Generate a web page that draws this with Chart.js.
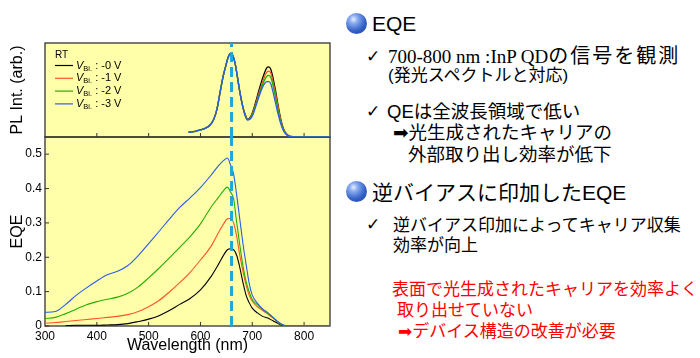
<!DOCTYPE html>
<html><head><meta charset="utf-8">
<script src="https://cdn.jsdelivr.net/npm/chart.js@4"></script>
<style>
html,body{margin:0;padding:0;background:#fff;width:700px;height:358px;overflow:hidden;}
#wrap{position:relative;width:700px;height:358px;}
#c{position:absolute;left:0;top:0;}
.t{position:absolute;white-space:nowrap;line-height:1;font-family:"Liberation Sans","Noto Sans CJK JP",sans-serif;color:#000;}
.b{font-size:17px;}
.b2{font-size:18.5px;}
.h{font-size:21px;}
.ball{position:absolute;width:21px;height:21px;border-radius:50%;background:radial-gradient(circle at 36% 30%, #e6eeff 0%, #86a8ee 22%, #3563c8 58%, #1c3f96 100%);}
.ck{position:absolute;font-family:"DejaVu Sans";font-weight:bold;font-size:17px;line-height:1;}
.ar{font-family:"DejaVu Sans";}
.serif{font-family:"Liberation Serif";font-size:19px;letter-spacing:0;}
.red{color:#ff0000;}
</style></head>
<body><div id="wrap">
<canvas id="c" width="340" height="358"></canvas>

<div class="ball" style="left:346px;top:13px;"></div>
<div class="t h" style="left:372px;top:13px;">EQE</div>
<div class="ck" style="left:366px;top:47.5px;">✓</div>
<div class="t" style="left:388px;top:45.5px;font-size:20px;letter-spacing:2px;"><span class="serif">700-800 nm :InP QD</span>の信号を観測</div>
<div class="t b" style="left:388px;top:67px;">(発光スペクトルと対応)</div>
<div class="ck" style="left:366px;top:102.5px;">✓</div>
<div class="t b2" style="left:387px;top:103px;">QEは全波長領域で低い</div>
<div class="t b2" style="left:393px;top:124px;"><span class="ar">➡</span>光生成されたキャリアの</div>
<div class="t b2" style="left:408px;top:146px;">外部取り出し効率が低下</div>

<div class="ball" style="left:346px;top:181px;"></div>
<div class="t h" style="left:372px;top:182px;">逆バイアスに印加したEQE</div>
<div class="ck" style="left:366px;top:215.5px;">✓</div>
<div class="t b" style="left:393px;top:217px;">逆バイアス印加によってキャリア収集</div>
<div class="t b" style="left:393px;top:237px;">効率が向上</div>
<div class="t b red" style="left:392px;top:281px;">表面で光生成されたキャリアを効率よく</div>
<div class="t b red" style="left:397px;top:302px;">取り出せていない</div>
<div class="t b red" style="left:398px;top:323px;"><span class="ar">➡</span>デバイス構造の改善が必要</div>
</div>
<script>
// ---------- data ----------
const wlPL = [577,590,600,610,618,625,632,638,644,649,653,657,660,663,667,671,676,681,686,691,696,701,707,713,719,724,728,732,736,740,745,750,755,760,765,770,780,800,820,850];
const plV0 = [0.05,0.06,0.075,0.095,0.125,0.18,0.30,0.48,0.65,0.76,0.84,0.885,0.89,0.86,0.78,0.65,0.48,0.34,0.245,0.19,0.21,0.27,0.38,0.50,0.61,0.69,0.735,0.745,0.715,0.63,0.49,0.33,0.19,0.09,0.04,0.015,0.003,0,0,0];
const plV1 = [0.05,0.06,0.075,0.095,0.125,0.18,0.30,0.48,0.65,0.76,0.84,0.885,0.89,0.86,0.78,0.65,0.48,0.34,0.24,0.187,0.20,0.26,0.36,0.47,0.57,0.65,0.69,0.70,0.675,0.59,0.46,0.31,0.18,0.085,0.037,0.013,0.003,0,0,0];
const plV2 = [0.05,0.06,0.075,0.095,0.125,0.18,0.30,0.48,0.65,0.76,0.84,0.885,0.89,0.86,0.78,0.65,0.48,0.34,0.235,0.183,0.195,0.25,0.345,0.45,0.545,0.61,0.645,0.655,0.63,0.55,0.42,0.28,0.16,0.078,0.033,0.011,0.002,0,0,0];
const plV3 = [0.05,0.06,0.075,0.095,0.125,0.18,0.30,0.48,0.65,0.76,0.84,0.885,0.89,0.86,0.78,0.65,0.48,0.34,0.23,0.18,0.19,0.235,0.33,0.43,0.52,0.57,0.59,0.59,0.56,0.48,0.36,0.24,0.14,0.07,0.03,0.01,0.002,0,0,0];

const wlEQE = [300,320,340,360,380,400,420,440,460,480,500,520,540,560,580,600,620,635,645,652,658,664,670,676,682,688,694,700,710,720,730,740,750,760,770,800,850];
const eqeV0 = [null,null,0.001,0.002,0.002,0.002,0.003,0.004,0.007,0.013,0.020,0.030,0.045,0.063,0.080,0.105,0.143,0.180,0.207,0.222,0.225,0.222,0.205,0.17,0.127,0.09,0.068,0.052,0.038,0.028,0.023,0.015,0.007,0.001,0,0,0];
const eqeV1 = [0.008,0.010,0.013,0.016,0.019,0.022,0.025,0.028,0.033,0.042,0.056,0.074,0.099,0.126,0.156,0.192,0.231,0.272,0.298,0.312,0.313,0.30,0.26,0.205,0.16,0.12,0.09,0.072,0.056,0.045,0.035,0.023,0.010,0.002,0,0,0];
const eqeV2 = [0.022,0.025,0.036,0.049,0.062,0.071,0.078,0.084,0.095,0.114,0.140,0.168,0.198,0.229,0.260,0.297,0.345,0.375,0.395,0.404,0.39,0.37,0.30,0.235,0.175,0.13,0.10,0.077,0.062,0.048,0.037,0.025,0.011,0.002,0,0,0];
const eqeV3 = [0.040,0.042,0.063,0.089,0.111,0.131,0.149,0.159,0.176,0.205,0.240,0.275,0.311,0.345,0.373,0.403,0.438,0.467,0.482,0.489,0.469,0.442,0.38,0.31,0.24,0.18,0.125,0.09,0.066,0.05,0.039,0.025,0.012,0.003,0,0,0];

const markerWL = 660;
const legendLabels = ['-0 V','-1 V','-2 V','-3 V'];
const seriesColors = ['#000000','#ff5526','#22b000','#2a5ce8'];
const xTicks = [300,400,500,600,700,800];

// ---------- helpers ----------
const pts = (xs, ys) => xs.map((x,i)=>({x, y: ys[i]})).filter(p=>p.y!==null);
const plSeries = [plV0, plV1, plV2, plV3];
const eqeSeries = [eqeV0, eqeV1, eqeV2, eqeV3];

const datasets = [];
datasets.push({data:[{x:markerWL,y:0},{x:markerWL,y:1}], yAxisID:'yPL', borderColor:'#1ea7da', borderWidth:3, borderDash:[10,5], pointRadius:0, order:0});
datasets.push({data:[{x:markerWL,y:0},{x:markerWL,y:0.55}], yAxisID:'y', borderColor:'#1ea7da', borderWidth:3, borderDash:[10,5], pointRadius:0, order:0});
for (let i=3;i>=0;i--){
  datasets.push({data:pts(wlPL, plSeries[i]), yAxisID:'yPL', borderColor:seriesColors[i], borderWidth:1.3, pointRadius:0, cubicInterpolationMode:'monotone', order:4-i});
  datasets.push({data:pts(wlEQE, eqeSeries[i]), yAxisID:'y', borderColor:seriesColors[i], borderWidth:1.1, pointRadius:0, cubicInterpolationMode:'monotone', order:4-i});
}

const framePlugin = {
  id:'frames',
  beforeDraw(chart){
    const {ctx, chartArea:ca} = chart;
    ctx.save(); ctx.fillStyle='#ffffaa';
    ctx.fillRect(ca.left, ca.top, ca.right-ca.left, ca.bottom-ca.top);
    ctx.restore();
  },
  beforeDatasetsDraw(chart){
    const {ctx, chartArea:ca, scales} = chart;
    const x = scales.x, y = scales.y, yPL = scales.yPL;
    ctx.save(); ctx.strokeStyle='#333'; ctx.lineWidth=1.3;
    [yPL, y].forEach(s=>ctx.strokeRect(ca.left, s.top, ca.right-ca.left, s.bottom-s.top));
    ctx.beginPath();
    x.ticks.forEach(t=>{
      const px = x.getPixelForValue(t.value);
      if (px <= ca.left+1 || px >= ca.right-1) return;
      [yPL.bottom, y.bottom].forEach(b=>{ctx.moveTo(px,b); ctx.lineTo(px,b-4);});
    });
    y.ticks.forEach(t=>{
      const py = y.getPixelForValue(t.value);
      ctx.moveTo(ca.left,py); ctx.lineTo(ca.left+4,py);
    });
    ctx.lineWidth=1; ctx.stroke(); ctx.restore();
  },
  afterDatasetsDraw(chart){
    const {ctx, chartArea:ca, scales} = chart;
    const s = scales.yPL; const x0 = ca.left;
    ctx.save(); ctx.fillStyle='#000'; ctx.textBaseline='middle';
    ctx.font='10px "Liberation Sans"';
    ctx.fillText('RT', x0+10, s.top+12);
    legendLabels.forEach((lab,i)=>{
      const yy = s.top + 22.5 + i*12.8;
      ctx.strokeStyle = seriesColors[i]; ctx.lineWidth=1.2;
      ctx.beginPath(); ctx.moveTo(x0+10,yy); ctx.lineTo(x0+28,yy); ctx.stroke();
      let xx = x0+31;
      ctx.font='italic 11px "Liberation Sans"'; ctx.fillText('V',xx,yy); xx += ctx.measureText('V').width;
      ctx.font='7.5px "Liberation Sans"'; ctx.fillText('Bi.',xx,yy+3); xx += ctx.measureText('Bi.').width;
      ctx.font='11px "Liberation Sans"'; ctx.fillText(' : '+lab,xx,yy);
    });
    ctx.restore();
  }
};

Chart.defaults.font.family = '"Liberation Sans", Arial, sans-serif';
Chart.defaults.color = '#000';

new Chart(document.getElementById('c'), {
  type:'line',
  data:{datasets},
  options:{
    responsive:false, animation:false, devicePixelRatio:1,
    layout:{padding:{top:43,left:0,right:10,bottom:0}},
    plugins:{legend:{display:false}, tooltip:{enabled:false}},
    scales:{
      x:{type:'linear', min:300, max:850,
         grid:{display:false, drawTicks:false}, border:{display:false},
         afterBuildTicks: s => { s.ticks = xTicks.map(v=>({value:v})); },
         ticks:{autoSkip:false, maxRotation:0, padding:3, font:{size:12}},
         title:{display:true, text:'Wavelength (nm)', font:{size:16}, padding:{top:0,bottom:3}},
         afterFit: s => { s.height = 32; }},
      y:{type:'linear', min:0, max:0.55, stack:'panels', stackWeight:189, position:'left',
         grid:{display:false, drawTicks:false}, border:{display:false},
         ticks:{stepSize:0.1, includeBounds:false, padding:3, font:{size:12},
                callback: v => v === 0 ? '0' : v.toFixed(1)},
         title:{display:true, text:'EQE', font:{size:16}, padding:{top:8,bottom:0}},
         afterFit: s => { s.width = 45; }},
      yPL:{type:'linear', min:0, max:1, stack:'panels', stackWeight:94, position:'left',
         grid:{display:false, drawTicks:false}, border:{display:false},
         ticks:{display:false},
         title:{display:true, text:'PL Int. (arb.)', font:{size:16}, padding:{top:8,bottom:0}},
         afterFit: s => { s.width = 45; }}
    }
  },
  plugins:[framePlugin]
});
</script>
</body></html>
